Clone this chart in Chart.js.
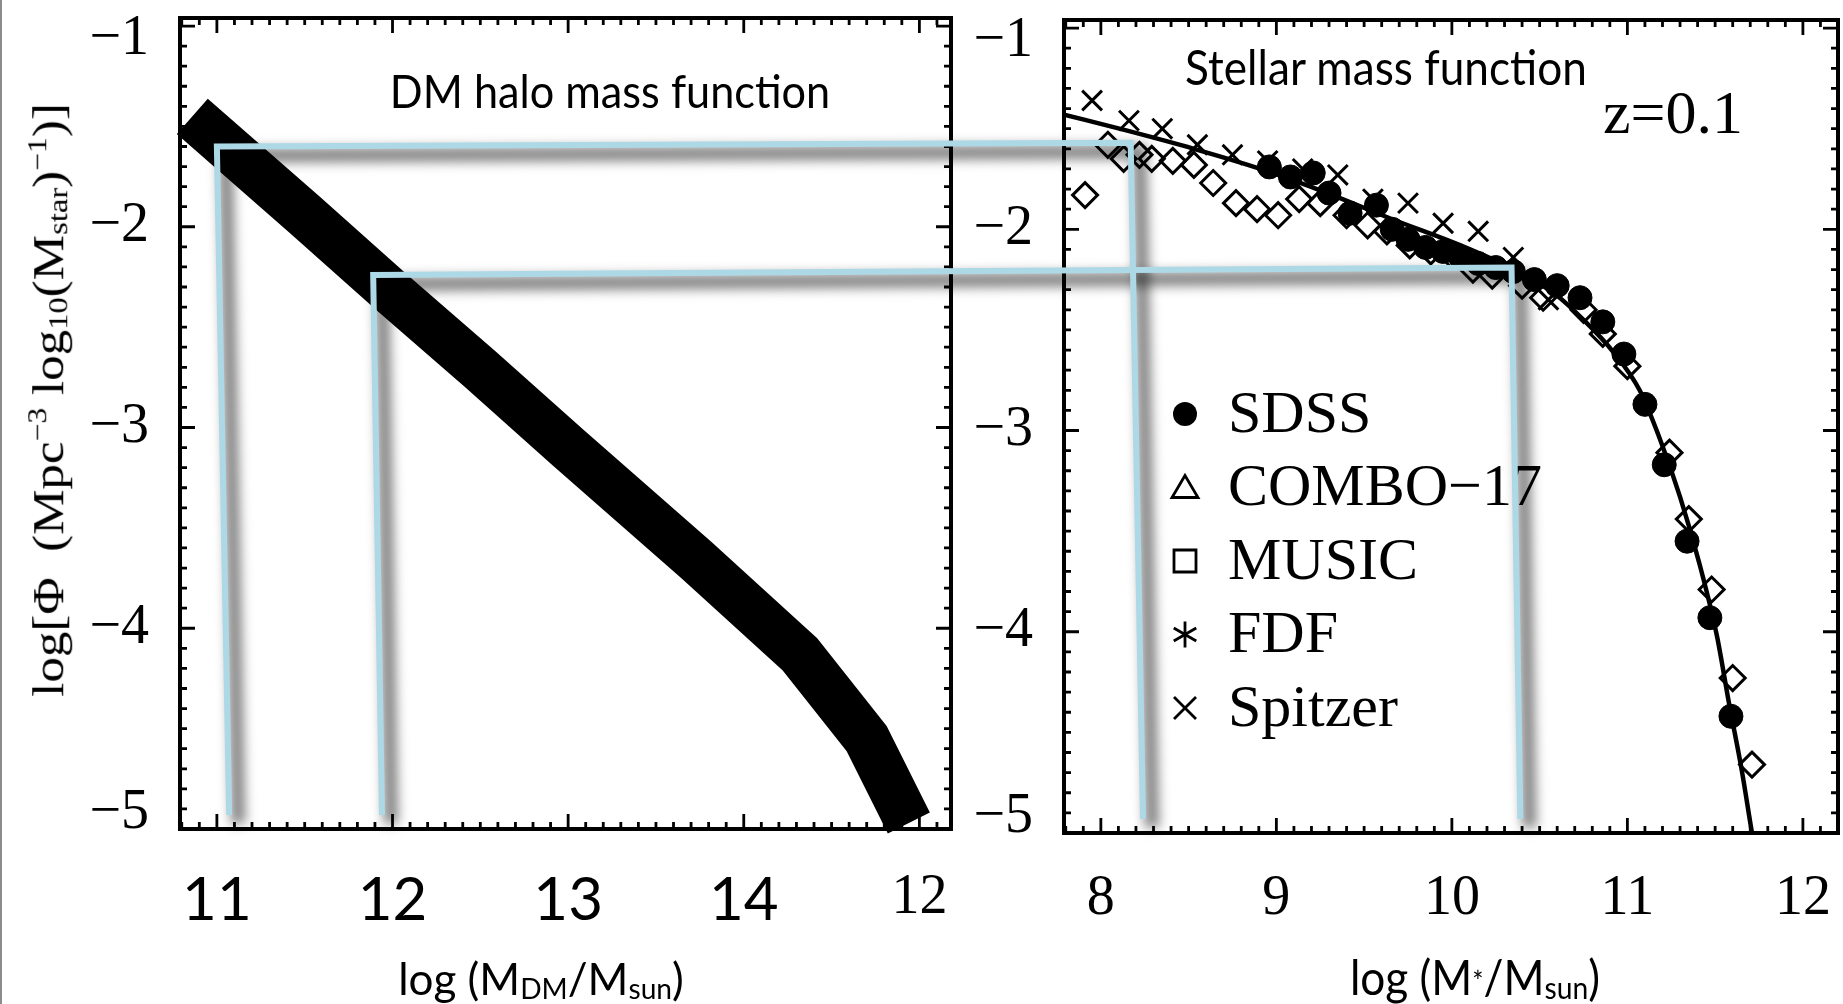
<!DOCTYPE html>
<html>
<head>
<meta charset="utf-8">
<title>Halo and stellar mass functions</title>
<script src="https://cdn.jsdelivr.net/npm/chart.js@4.4.0/dist/chart.umd.min.js"></script>
<style>
    body { margin: 0; width: 1843px; height: 1004px; position: relative; overflow: hidden; background: #fff; }
    canvas { position: absolute; top: 0; }
    #graficoHalo { left: 0; }
    #graficoEstelar { left: 960px; }
    #ligacoes { left: 0; pointer-events: none; }
    #borda { position: absolute; left: 0; top: 0; width: 2px; height: 1004px; background: #8c8c8c; }
    .texto { position: absolute; white-space: nowrap; transform: translate(-50%, -50%); color: #000; line-height: 1; }
    .sans { font-family: Lato, "Open Sans", sans-serif; }
    .serif { font-family: "Liberation Serif", "DejaVu Serif", serif; }
    .estreito { transform: translate(-50%, -50%) scaleX(0.92); }
    .vertical { transform: translate(-50%, -50%) rotate(-90deg) scaleY(0.85); }
    sub { font-size: 0.64em; vertical-align: -0.14em; line-height: 0; }
    sup { font-size: 0.62em; vertical-align: 0.62em; line-height: 0; }
    .estrela { font-size: 0.6em; vertical-align: 0.1em; }
</style>
</head>
<body>
<div id="borda"></div>
<canvas id="graficoHalo" width="1000" height="1004"></canvas>
<canvas id="graficoEstelar" width="883" height="1004"></canvas>
<canvas id="ligacoes" width="1843" height="1004"></canvas>

<div class="texto sans estreito" style="left:610px; top:90px; font-size:47px;">DM halo mass function</div>
<div class="texto sans estreito" style="left:1386px; top:67px; font-size:48px;">Stellar mass function</div>
<div class="texto serif" style="left:1673px; top:112px; font-size:62px;">z=0.1</div>
<div class="texto sans" style="left:541px; top:978px; font-size:44px;">log (M<sub>DM</sub>/M<sub>sun</sub>)</div>
<div class="texto sans estreito" style="left:1475px; top:977px; font-size:48px;">log (M<span class="estrela">*</span>/M<sub>sun</sub>)</div>
<div class="texto serif vertical" style="left:49px; top:400px; font-size:51px;">log[&Phi;&nbsp; (Mpc<sup>&minus;3</sup> log<sub>10</sub>(M<sub>star</sub>)<sup>&minus;1</sup>)]</div>

<script>
// Tick values and labels
const phiTicks = [-1, -2, -3, -4, -5];
const haloTicks = [11, 12, 13, 14, 15];
const haloTickLabels = ['11', '12', '13', '14', '12'];
const starTicks = [8, 9, 10, 11, 12];
const starTickLabels = ['8', '9', '10', '11', '12'];

// DM halo mass function (thick band)
const haloMass = [10.86, 11.5, 12.0, 12.5, 13.0, 13.73, 14.32, 14.70, 14.94];
const haloPhi = [-1.45, -1.94, -2.33, -2.71, -3.10, -3.66, -4.13, -4.55, -4.97];

// Schechter fit, z=0.1
const fitMass = [7.79, 8.15, 8.53, 8.91, 9.29, 9.66, 10.05, 10.33, 10.60, 10.75, 10.92, 11.07, 11.18, 11.30, 11.41, 11.51, 11.58, 11.65, 11.71, 11.75];
const fitPhi = [-1.43, -1.51, -1.60, -1.70, -1.82, -1.95, -2.08, -2.19, -2.33, -2.45, -2.61, -2.80, -3.03, -3.33, -3.66, -4.02, -4.36, -4.68, -5.0, -5.2];

// SDSS (filled circles)
const sdssMass = [8.96, 9.08, 9.21, 9.30, 9.42, 9.57, 9.66, 9.75, 9.85, 9.95, 10.05, 10.15, 10.25, 10.35, 10.47, 10.60, 10.73, 10.86, 10.98, 11.10, 11.21, 11.34, 11.47, 11.59];
const sdssPhi = [-1.69, -1.74, -1.72, -1.82, -1.92, -1.88, -2.00, -2.05, -2.09, -2.11, -2.14, -2.17, -2.19, -2.21, -2.25, -2.28, -2.34, -2.46, -2.62, -2.87, -3.17, -3.55, -3.93, -4.42];

// open diamonds
const diamondMass = [7.91, 8.04, 8.13, 8.22, 8.29, 8.41, 8.53, 8.64, 8.77, 8.89, 9.01, 9.13, 9.25, 9.40, 9.52, 9.63, 9.76, 9.88, 10.00, 10.12, 10.23, 10.40, 10.52, 10.75, 10.86, 11.00, 11.24, 11.35, 11.48, 11.60, 11.71];
const diamondPhi = [-1.83, -1.58, -1.65, -1.63, -1.65, -1.66, -1.68, -1.77, -1.87, -1.90, -1.93, -1.85, -1.87, -1.93, -1.98, -2.01, -2.08, -2.11, -2.13, -2.20, -2.23, -2.28, -2.34, -2.40, -2.52, -2.68, -3.11, -3.44, -3.79, -4.23, -4.66];

// Spitzer (crosses)
const spitzerMass = [7.95, 8.16, 8.35, 8.55, 8.75, 8.95, 9.15, 9.35, 9.55, 9.75, 9.95, 10.15, 10.35, 10.55];
const spitzerPhi = [-1.36, -1.46, -1.50, -1.58, -1.63, -1.66, -1.70, -1.73, -1.85, -1.87, -1.97, -2.01, -2.14, -2.35];

// Abundance matching links: halo mass -> number density -> stellar mass
const linkHaloMass = [11.0, 11.89];
const linkHaloFoot = [11.07, 11.94];
const linkPhiLeft = [-1.60, -2.24];
const linkPhiRight = [-1.57, -2.19];
const linkStarMass = [8.17, 10.34];
const linkStarFoot = [8.24, 10.39];
const linkFloor = -4.93;

const legendLabels = ['SDSS', 'COMBO\u221217', 'MUSIC', 'FDF', 'Spitzer'];
const legendSymbols = ['circle', 'triangle', 'square', 'asterisk', 'cross'];

let serifFont = '"Liberation Serif", "DejaVu Serif", serif';
let sansFont = 'Lato, "Open Sans", sans-serif';

function pontos(xs, ys) {
    return xs.map((x, i) => ({ x: x, y: ys[i] }));
}

// box with inward major/minor ticks on all four sides
let pluginMoldura = {
    id: 'moldura',
    beforeDatasetsDraw: function (chart) {
        let ctx = chart.ctx;
        let a = chart.chartArea;
        let sx = chart.scales.x;
        let sy = chart.scales.y;
        ctx.save();
        ctx.strokeStyle = '#000';
        ctx.lineWidth = 2.8;
        ctx.beginPath();
        for (let i = Math.ceil(sx.min * 10); i <= Math.floor(sx.max * 10); i++) {
            let px = sx.getPixelForValue(i / 10);
            let len = (i % 10 === 0) ? 15 : 7;
            ctx.moveTo(px, a.bottom);
            ctx.lineTo(px, a.bottom - len);
            ctx.moveTo(px, a.top);
            ctx.lineTo(px, a.top + len);
        }
        for (let i = Math.ceil(sy.min * 10); i <= Math.floor(sy.max * 10); i++) {
            let py = sy.getPixelForValue(i / 10);
            let len = (i % 10 === 0) ? 15 : 7;
            ctx.moveTo(a.left, py);
            ctx.lineTo(a.left + len, py);
            ctx.moveTo(a.right, py);
            ctx.lineTo(a.right - len, py);
        }
        ctx.stroke();
        ctx.lineWidth = 4;
        ctx.strokeRect(a.left, a.top, a.right - a.left, a.bottom - a.top);
        ctx.restore();
    }
};

function desenharSimbolo(ctx, tipo, x, y) {
    ctx.beginPath();
    if (tipo === 'circle') {
        ctx.arc(x, y, 12, 0, Math.PI * 2);
        ctx.fill();
        return;
    }
    if (tipo === 'triangle') {
        ctx.moveTo(x, y - 12);
        ctx.lineTo(x - 13, y + 10);
        ctx.lineTo(x + 13, y + 10);
        ctx.closePath();
    } else if (tipo === 'square') {
        ctx.rect(x - 11, y - 11, 22, 22);
    } else if (tipo === 'asterisk') {
        for (let k = 0; k < 3; k++) {
            let ang = Math.PI / 2 + k * Math.PI / 3;
            ctx.moveTo(x - 13 * Math.cos(ang), y - 13 * Math.sin(ang));
            ctx.lineTo(x + 13 * Math.cos(ang), y + 13 * Math.sin(ang));
        }
    } else if (tipo === 'cross') {
        ctx.moveTo(x - 11, y - 11);
        ctx.lineTo(x + 11, y + 11);
        ctx.moveTo(x + 11, y - 11);
        ctx.lineTo(x - 11, y + 11);
    }
    ctx.stroke();
}

let pluginLegenda = {
    id: 'legenda',
    afterDraw: function (chart) {
        let ctx = chart.ctx;
        let a = chart.chartArea;
        ctx.save();
        ctx.font = '60px ' + serifFont;
        ctx.textBaseline = 'middle';
        ctx.fillStyle = '#000';
        ctx.strokeStyle = '#000';
        ctx.lineWidth = 2.8;
        legendLabels.forEach(function (nome, i) {
            let y = a.top + 394 + i * 73.5;
            desenharSimbolo(ctx, legendSymbols[i], a.left + 121, y);
            ctx.fillText(nome, a.left + 164, y + 2);
        });
        ctx.restore();
    }
};

// the end labels sit a little inside the box: -1 lower, -5 higher
function rotuloPhi(v, i) {
    let texto = '\u2212' + Math.abs(v);
    if (i === 0) return ['', texto];
    if (i === phiTicks.length - 1) return [texto, ''];
    return texto;
}

function fontePhi(c) {
    let lh = 1.2;
    if (c.index === 0) lh = 0.46;
    if (c.index === phiTicks.length - 1) lh = 0.56;
    return { family: serifFont, size: 56, lineHeight: lh };
}

function opcoesPainel(cfg) {
    return {
        responsive: false,
        animation: false,
        devicePixelRatio: 1,
        events: [],
        layout: {
            autoPadding: false,
            padding: { left: 0, top: cfg.area.top, right: cfg.largura - cfg.area.right, bottom: 0 }
        },
        scales: {
            x: {
                type: 'linear',
                min: cfg.xMin,
                max: cfg.xMax,
                grid: { display: false, drawTicks: false },
                border: { display: false },
                afterBuildTicks: function (s) { s.ticks = cfg.xTicks.map(v => ({ value: v })); },
                afterFit: function (s) {
                    s.height = cfg.altura - cfg.area.bottom;
                    s.paddingLeft = 0;
                    s.paddingRight = 0;
                },
                ticks: {
                    autoSkip: false,
                    maxRotation: 0,
                    minRotation: 0,
                    padding: cfg.xPadding,
                    color: '#000',
                    font: cfg.xFont,
                    callback: (v, i) => cfg.xLabels[i]
                }
            },
            y: {
                type: 'linear',
                min: -5,
                max: -0.96,
                grid: { display: false, drawTicks: false },
                border: { display: false },
                afterBuildTicks: function (s) { s.ticks = phiTicks.map(v => ({ value: v })); },
                afterFit: function (s) {
                    s.width = cfg.area.left;
                    s.paddingTop = 0;
                    s.paddingBottom = 0;
                },
                ticks: {
                    padding: 31,
                    color: '#000',
                    font: fontePhi,
                    callback: rotuloPhi
                }
            }
        },
        plugins: {
            legend: { display: false },
            tooltip: { enabled: false }
        }
    };
}

// PAINEL 1: DM halo mass function
let graficoHalo = new Chart(document.getElementById('graficoHalo'), {
    type: 'line',
    data: {
        datasets: [
            {
                label: 'DM halo',
                data: pontos(haloMass, haloPhi),
                borderColor: '#000',
                borderWidth: 47,
                borderJoinStyle: 'miter',
                borderCapStyle: 'butt',
                pointRadius: 0,
                tension: 0,
                clip: false
            }
        ]
    },
    options: opcoesPainel({
        area: { left: 180, top: 18, right: 951, bottom: 829 },
        largura: 1000,
        altura: 1004,
        xMin: 10.79,
        xMax: 15.18,
        xTicks: haloTicks,
        xLabels: haloTickLabels,
        xPadding: 36,
        xFont: (c) => c.index < 4 ? { family: sansFont, size: 60 } : { family: serifFont, size: 56 }
    }),
    plugins: [pluginMoldura]
});

// PAINEL 2: Stellar mass function
let graficoEstelar = new Chart(document.getElementById('graficoEstelar'), {
    type: 'line',
    data: {
        datasets: [
            {
                label: 'SDSS',
                data: pontos(sdssMass, sdssPhi),
                showLine: false,
                pointStyle: 'circle',
                pointRadius: 12,
                pointBackgroundColor: '#000',
                pointBorderColor: '#000',
                pointBorderWidth: 1
            },
            {
                label: 'diamonds',
                data: pontos(diamondMass, diamondPhi),
                showLine: false,
                pointStyle: 'rectRot',
                pointRadius: 12.5,
                pointBackgroundColor: 'rgba(0,0,0,0)',
                pointBorderColor: '#000',
                pointBorderWidth: 3
            },
            {
                label: 'Spitzer',
                data: pontos(spitzerMass, spitzerPhi),
                showLine: false,
                pointStyle: 'crossRot',
                pointRadius: 14,
                pointBorderColor: '#000',
                pointBorderWidth: 3
            },
            {
                label: 'Schechter fit',
                data: pontos(fitMass, fitPhi),
                borderColor: '#000',
                borderWidth: 4.5,
                pointRadius: 0,
                cubicInterpolationMode: 'monotone'
            }
        ]
    },
    options: opcoesPainel({
        area: { left: 104, top: 20, right: 878, bottom: 833 },
        largura: 883,
        altura: 1004,
        xMin: 7.79,
        xMax: 12.2,
        xTicks: starTicks,
        xLabels: starTickLabels,
        xPadding: 33,
        xFont: { family: serifFont, size: 56 }
    }),
    plugins: [pluginMoldura, pluginLegenda]
});

// light blue links between the two panels, with a soft drop shadow
function desenharLigacoes() {
    let ctx = document.getElementById('ligacoes').getContext('2d');
    let hx = graficoHalo.scales.x;
    let hy = graficoHalo.scales.y;
    let sx = graficoEstelar.scales.x;
    let sy = graficoEstelar.scales.y;
    let offset = 960;

    let caminhos = linkHaloMass.map(function (m, i) {
        return [
            [hx.getPixelForValue(linkHaloFoot[i]), hy.getPixelForValue(linkFloor)],
            [hx.getPixelForValue(m), hy.getPixelForValue(linkPhiLeft[i])],
            [offset + sx.getPixelForValue(linkStarMass[i]), sy.getPixelForValue(linkPhiRight[i])],
            [offset + sx.getPixelForValue(linkStarFoot[i]), sy.getPixelForValue(linkFloor)]
        ];
    });

    function tracar(c, dx) {
        ctx.beginPath();
        c.forEach(function (p, k) {
            if (k === 0) ctx.moveTo(p[0] + dx, p[1]);
            else ctx.lineTo(p[0] + dx, p[1]);
        });
        ctx.stroke();
    }

    // shadow only: the stroke itself sits off-canvas
    let longe = 5000;
    ctx.save();
    ctx.lineJoin = 'miter';
    ctx.lineWidth = 14;
    ctx.strokeStyle = '#000';
    ctx.shadowColor = 'rgba(0, 0, 0, 0.5)';
    ctx.shadowBlur = 12;
    ctx.shadowOffsetX = longe + 9;
    ctx.shadowOffsetY = 9;
    caminhos.forEach(c => tracar(c, -longe));
    ctx.restore();

    ctx.save();
    ctx.lineJoin = 'miter';
    ctx.lineWidth = 6;
    ctx.strokeStyle = '#add8e6';
    caminhos.forEach(c => tracar(c, 0));
    ctx.restore();
}

desenharLigacoes();
</script>
</body>
</html>
